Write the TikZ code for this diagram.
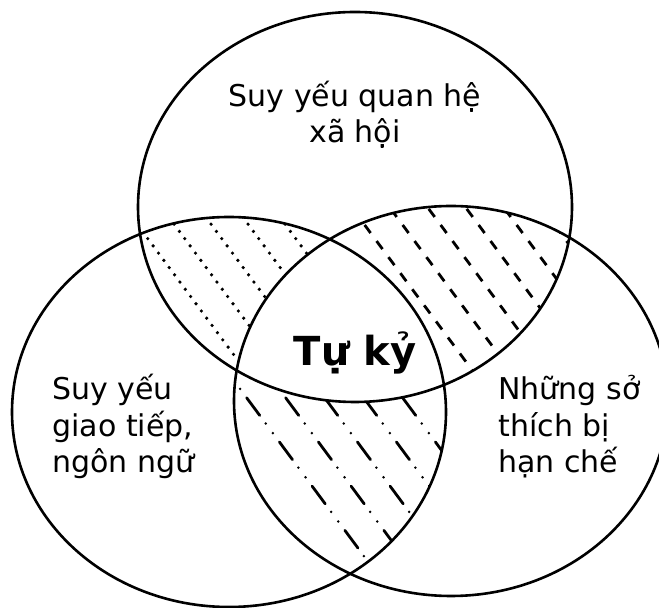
\documentclass[tikz,border=0pt]{standalone}
\usepackage{fontspec}
\setmainfont{DejaVu Sans}
\usetikzlibrary{positioning}

\begin{document}
\begin{tikzpicture}[x=0.5pt, y=-0.5pt, font=\fontsize{15}{18.3}\selectfont,
  ring/.style={line width=1.3pt},
  label/.style={inner sep=0pt},
  dotline/.style={line width=1.8pt, line cap=round, dash pattern=on 0pt off 4.5pt},
  dashline/.style={line width=1.4pt, dash pattern=on 5pt off 5pt},
  dashdotline/.style={line width=1.4pt, line cap=round,
    dash pattern=on 11pt off 5pt on 0pt off 6pt on 0pt off 5.5pt}]

  \useasboundingbox (0,0) rectangle (659,608);

  % ---- the three sets ----
  \def\topset{(355,207) ellipse [x radius=108.5pt, y radius=97.5pt]}
  \def\leftset{(229,412) ellipse [x radius=108.5pt, y radius=97.5pt]}
  \def\rightset{(451,401) ellipse [x radius=108.5pt, y radius=97.5pt]}
  \def\slope{1.35}

  % ---- top & left: dotted hatch ----
  \begin{scope}
    \clip \topset;
    \clip \leftset;
    \foreach \k in {-29,8,45,82,119}
      \draw[dotline] (\k,0) -- ({\k+608/\slope},608);
  \end{scope}

  % ---- top & right: dashed hatch ----
  \begin{scope}
    \clip \topset;
    \clip \rightset;
    \foreach \k in {198,236,274,312,350,388}
      \draw[dashline] (\k,0) -- ({\k+608/\slope},608);
  \end{scope}

  % ---- left & right: dash-dot hatch ----
  \begin{scope}
    \clip \leftset;
    \clip \rightset;
    \foreach \k in {-48,-9,30,69,108}
      \draw[dashdotline] (\k,0) -- ({\k+608/\slope},608);
  \end{scope}

  % centre stays empty
  \begin{scope}
    \clip \topset;
    \clip \leftset;
    \fill[white] \rightset;
  \end{scope}

  % ---- outlines ----
  \draw[ring] \topset;
  \draw[ring] \leftset;
  \draw[ring] \rightset;

  % ---- labels (base = last line) ----
  \node[label, align=center, anchor=base] (social) at (355,143)
    {Suy yếu quan hệ\\xã hội};
  \node[label, align=left, anchor=base west] (comm) at (52,473)
    {Suy yếu\\giao tiếp,\\ngôn ngữ};
  \node[label, align=left, anchor=base west] (interest) at (498,473)
    {Những sở\\thích bị\\hạn chế};
  \node[label, font=\fontsize{20}{24}\selectfont\bfseries, anchor=base] (autism)
    at (355,366) {Tự kỷ};

\end{tikzpicture}
\end{document}
